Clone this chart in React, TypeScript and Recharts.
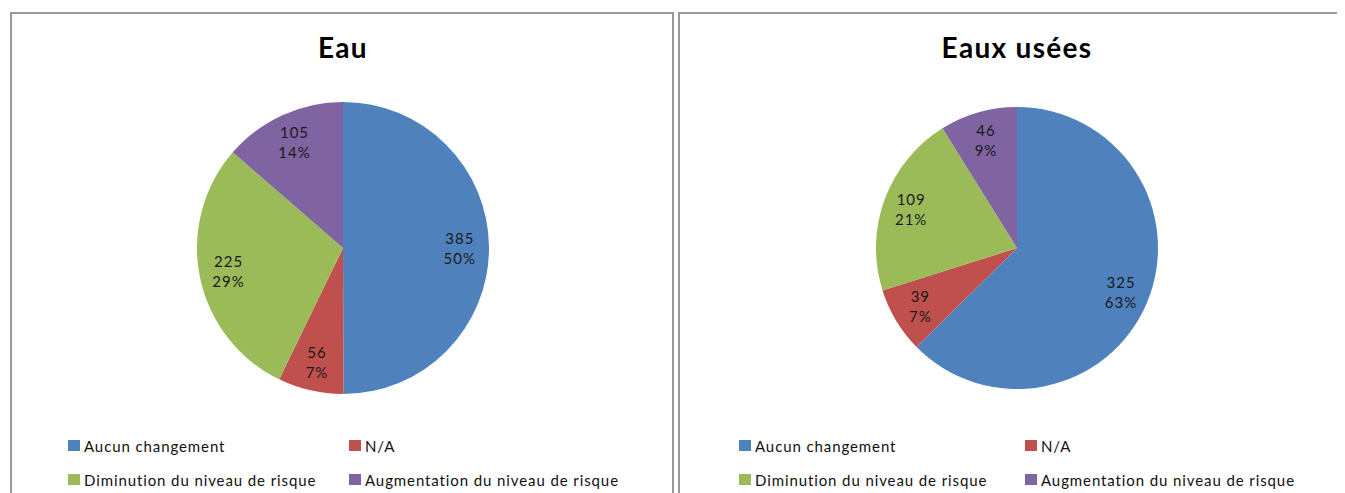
import React from 'react';
import { PieChart, Pie, Cell, Legend } from 'recharts';

const categories = [
  'Aucun changement',
  'N/A',
  'Diminution du niveau de risque',
  'Augmentation du niveau de risque',
];
const colors = ['#4F81BD', '#C0504D', '#9BBB59', '#8064A2'];

const eauValues = [385, 56, 225, 105];
const eauPercents = ['50%', '7%', '29%', '14%'];

const useesValues = [325, 39, 109, 46];
const useesPercents = ['63%', '7%', '21%', '9%'];

const FONT = 'Lato, "Open Sans", sans-serif';
const RADIAN = Math.PI / 180;

function makeData(values: number[], percents: string[]) {
  return categories.map((name, i) => ({ name, value: values[i], pct: percents[i] }));
}

function renderLabel(props: any) {
  const { cx, cy, midAngle, outerRadius, payload } = props;
  const r = outerRadius * 0.8;
  const x = cx + r * Math.cos(-midAngle * RADIAN);
  const y = cy + r * Math.sin(-midAngle * RADIAN);
  return (
    <text
      x={x}
      y={y}
      textAnchor="middle"
      fill="#1a1a1a"
      fontSize={15}
      letterSpacing={1}
      fontFamily={FONT}
    >
      <tspan x={x} dy={-4}>{payload.value}</tspan>
      <tspan x={x} dy={20}>{payload.pct}</tspan>
    </text>
  );
}

// legend keeps the Excel order: two columns, two rows
function makeLegend(colWidth: number) {
  return function LegendContent() {
    return (
      <div
        style={{
          display: 'grid',
          gridTemplateColumns: `${colWidth}px auto`,
          rowGap: 13,
          fontFamily: FONT,
          fontSize: 15,
          letterSpacing: 0.9,
          color: '#111',
        }}
      >
        {categories.map((name, i) => (
          <div key={name} style={{ display: 'flex', alignItems: 'center', height: 21 }}>
            <span
              style={{
                display: 'inline-block',
                width: 12,
                height: 11,
                background: colors[i],
                marginRight: 4,
              }}
            />
            <span style={{ whiteSpace: 'nowrap' }}>{name}</span>
          </div>
        ))}
      </div>
    );
  };
}

interface PanelProps {
  title: string;
  values: number[];
  percents: string[];
  left: number;
  width: number;
  cx: number;
  radius: number;
  legendLeft: number;
  colWidth: number;
  rightBorder: boolean;
}

function Panel(p: PanelProps) {
  const data = makeData(p.values, p.percents);
  return (
    <div
      style={{
        position: 'absolute',
        left: p.left,
        top: 4,
        width: p.width,
        height: 500,
        border: '2px solid #9a9a9a',
        borderRight: p.rightBorder ? '2px solid #9a9a9a' : 'none',
        background: '#fff',
      }}
    >
      <PieChart width={p.width} height={490} margin={{ top: 0, right: 0, bottom: 0, left: 0 }}>
        <text
          x={p.cx}
          y={44}
          textAnchor="middle"
          fontFamily={FONT}
          fontWeight={700}
          fontSize={28}
          letterSpacing={1.3}
          fill="#000"
        >
          {p.title}
        </text>
        <Pie
          data={data}
          dataKey="value"
          nameKey="name"
          cx={p.cx}
          cy={234}
          outerRadius={p.radius}
          startAngle={90}
          endAngle={-270}
          stroke="none"
          label={renderLabel}
          labelLine={false}
          isAnimationActive={false}
        >
          {data.map((d, i) => (
            <Cell key={d.name} fill={colors[i]} />
          ))}
        </Pie>
        <Legend
          content={makeLegend(p.colWidth)}
          wrapperStyle={{ left: p.legendLeft, top: 421, width: 600 }}
        />
      </PieChart>
    </div>
  );
}

export default function App() {
  return (
    <div
      style={{
        position: 'relative',
        width: 1337,
        height: 485,
        overflow: 'hidden',
        background: '#fff',
      }}
    >
      <Panel
        title="Eau"
        values={eauValues}
        percents={eauPercents}
        left={2}
        width={660}
        cx={331}
        radius={146}
        legendLeft={56}
        colWidth={281}
        rightBorder={true}
      />
      <Panel
        title="Eaux usées"
        values={useesValues}
        percents={useesPercents}
        left={670}
        width={700}
        cx={337}
        radius={141}
        legendLeft={59}
        colWidth={286}
        rightBorder={false}
      />
    </div>
  );
}
